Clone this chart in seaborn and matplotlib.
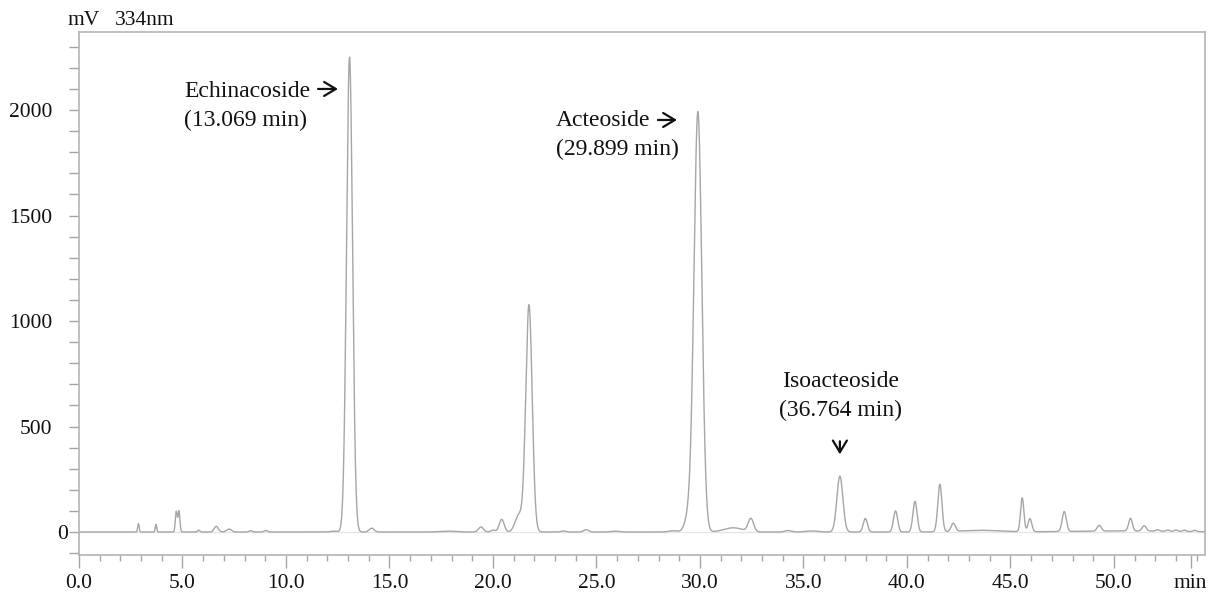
import numpy as np
import pandas as pd
import seaborn as sns
import matplotlib.pyplot as plt
import matplotlib.transforms as mtransforms
from matplotlib.ticker import MultipleLocator

# Peak table (334 nm)
# retention time (min), height (mV), peak width sigma (min)
peak_rt = [2.87, 3.72, 4.70, 4.83, 5.78, 6.63, 7.25, 8.29, 9.02, 12.3,
           13.07, 14.14, 17.8, 19.42, 20.0, 20.42, 21.25, 21.74, 23.4, 24.5,
           25.9, 28.7, 29.45, 29.9, 31.6, 32.46, 34.25, 35.4, 36.76, 37.99,
           39.45, 40.39, 41.59, 42.24, 43.5, 45.57, 45.94, 47.6, 49.29, 50.8,
           51.46, 52.1, 52.6, 53.0, 53.4, 53.9, 50.5]
peak_height = [40, 36, 97, 100, 9, 27, 14, 6, 7, 4,
               2251, 18, 4, 24, 9, 60, 80, 1076, 5, 11,
               4, 6, 70, 1990, 20, 62, 7, 5, 265, 64,
               100, 145, 225, 38, 8, 160, 62, 95, 27, 60,
               25, 7, 6, 7, 6, 6, 5]
peak_sigma = [0.035, 0.035, 0.045, 0.045, 0.05, 0.10, 0.12, 0.08, 0.08, 0.15,
              0.145, 0.12, 0.4, 0.12, 0.1, 0.12, 0.18, 0.155, 0.1, 0.12,
              0.2, 0.2, 0.18, 0.19, 0.45, 0.13, 0.15, 0.3, 0.145, 0.1,
              0.1, 0.1, 0.1, 0.1, 1.0, 0.08, 0.09, 0.1, 0.1, 0.09,
              0.1, 0.08, 0.08, 0.08, 0.08, 0.08, 2.5]

# labelled compounds
labels = ["Echinacoside", "Acteoside", "Isoacteoside"]
label_rt = ["13.069", "29.899", "36.764"]

x_ticks = [0, 5, 10, 15, 20, 25, 30, 35, 40, 45, 50]
y_ticks = [0, 500, 1000, 1500, 2000]

# build the detector trace from the peak table
t = np.linspace(0, 54.4, 8000)
signal = np.zeros_like(t)
for rt, h, s in zip(peak_rt, peak_height, peak_sigma):
    signal += h * np.exp(-0.5 * ((t - rt) / s) ** 2)
trace = pd.DataFrame({'Time': t, 'Signal': signal})

sns.set_theme(style='white')
plt.rcParams['font.family'] = ['Liberation Serif', 'DejaVu Serif']

fig = plt.figure(figsize=(12.1, 5.98), dpi=100)
ax = fig.add_axes([79 / 1210, 1 - 555 / 598, (1205 - 79) / 1210, (555 - 32) / 598])

ax.axhline(0, color='#e6e6e6', linewidth=1.0, zorder=1)
sns.lineplot(data=trace, x='Time', y='Signal', ax=ax, color='#a6a6a6', linewidth=1.0, zorder=2)

ax.set_xlim(0, 54.4)
ax.set_ylim(-109, 2370)
ax.set_xlabel('')
ax.set_ylabel('')

for sp in ax.spines.values():
    sp.set_color('#b4b4b4')
    sp.set_linewidth(1.2)

# x axis: majors every 5 min, minors every 1 min, "min" as last label
ax.set_xticks(x_ticks + [53.7])
ax.set_xticklabels(['%.1f' % v for v in x_ticks] + ['min'])
ax.xaxis.set_minor_locator(MultipleLocator(1))
ax.xaxis.get_major_ticks()[-1].tick1line.set_visible(False)
ax.tick_params(axis='x', which='major', length=9.5, width=1, color='#a6a6a6',
               labelsize=15.5, pad=4, direction='out', bottom=True)
ax.tick_params(axis='x', which='minor', length=4.5, width=1, color='#a6a6a6',
               direction='out', bottom=True)

# y axis: labels every 500, ticks every 100
ax.set_yticks(y_ticks)
ax.set_yticklabels([str(v) for v in y_ticks])
ax.yaxis.set_minor_locator(MultipleLocator(100))
ax.tick_params(axis='y', which='both', length=7.2, width=1, color='#a6a6a6',
               direction='out', left=True)
ax.tick_params(axis='y', which='major', labelsize=15.5, pad=12)
zero_lab = ax.get_yticklabels()[0]
zero_lab.set_transform(zero_lab.get_transform() +
                       mtransforms.ScaledTranslation(16 / 100, 0, fig.dpi_scale_trans))

for lab in ax.get_xticklabels() + ax.get_yticklabels():
    lab.set_color('#111111')

# annotations
fs = 17
ax.text(5.07, 2062, labels[0], fontsize=fs, ha='left', va='baseline', color='#111111')
ax.text(5.07, 1924, '(' + label_rt[0] + ' min)', fontsize=fs, ha='left', va='baseline', color='#111111')
ax.text(23.04, 1924, labels[1], fontsize=fs, ha='left', va='baseline', color='#111111')
ax.text(23.04, 1787, '(' + label_rt[1] + ' min)', fontsize=fs, ha='left', va='baseline', color='#111111')
ax.text(36.8, 687, labels[2], fontsize=fs, ha='center', va='baseline', color='#111111')
ax.text(36.8, 550, '(' + label_rt[2] + ' min)', fontsize=fs, ha='center', va='baseline', color='#111111')

arrow = dict(arrowstyle='->, head_length=0.7, head_width=0.42', color='#111111',
             lw=1.6, shrinkA=0, shrinkB=0)
ax.annotate('', xy=(12.51, 2100), xytext=(11.55, 2100), arrowprops=arrow)
ax.annotate('', xy=(28.89, 1953), xytext=(27.97, 1953), arrowprops=arrow)
ax.annotate('', xy=(36.76, 368), xytext=(36.76, 430), arrowprops=arrow)

fig.text(68 / 1210, 1 - 25 / 598, 'mV', fontsize=15.5, ha='left', va='baseline', color='#111111')
fig.text(115 / 1210, 1 - 25 / 598, '334nm', fontsize=15.5, ha='left', va='baseline', color='#111111')

fig.savefig('out.png', dpi=100)
